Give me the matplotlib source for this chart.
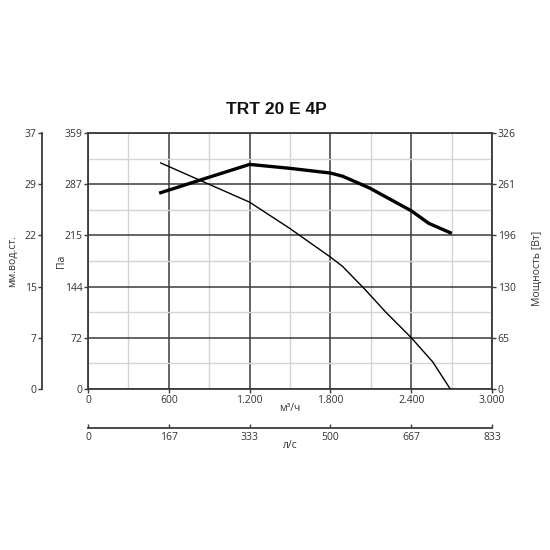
import numpy as np
import matplotlib
matplotlib.use("Agg")
import matplotlib.pyplot as plt
from matplotlib.ticker import MultipleLocator

# airflow (m3/h) vs static pressure (Pa)
q_pa = [540, 1200, 1500, 1800, 1890, 2060, 2210, 2400, 2560, 2690]
pa = [317, 262, 225, 185, 172, 139, 108, 72, 38, 0]

# airflow (m3/h) vs absorbed power (W)
q_pw = [540, 850, 1200, 1500, 1800, 1890, 2090, 2400, 2530, 2690]
pw = [250, 267, 286, 281, 275, 271, 256, 227, 211, 199]

title = "TRT 20 E 4P"
pa_labels = ["0", "72", "144", "215", "287", "359"]
mm_labels = ["0", "7", "15", "22", "29", "37"]
pw_labels = ["0", "65", "130", "196", "261", "326"]
q_labels = ["0", "600", "1.200", "1.800", "2.400", "3.000"]
ls_labels = ["0", "167", "333", "500", "667", "833"]

plt.rcParams['font.family'] = ['Open Sans', 'DejaVu Sans']
dark = '#3a3a3a'
txt = '#333333'
fs = 7.5

fig = plt.figure(figsize=(5.5, 5.5), dpi=100)
ax = fig.add_axes([88/550, 1-389/550, 404/550, 256/550])

ax.set_xlim(0, 3000)
ax.set_ylim(0, 359)
ax.set_xticks(np.linspace(0, 3000, 6))
ax.set_xticklabels(q_labels)
ax.set_yticks(np.linspace(0, 359, 6))
ax.set_yticklabels(pa_labels)
ax.xaxis.set_minor_locator(MultipleLocator(300))
ax.set_yticks(np.linspace(0, 359, 11), minor=True)
ax.grid(True, which='minor', color='#d4d4d4', lw=1.0)
ax.grid(True, which='major', color=dark, lw=1.1)
ax.tick_params(which='minor', length=0)
ax.tick_params(which='major', length=3, width=1, color=dark, labelsize=fs, labelcolor=txt, pad=1)
for s in ax.spines.values():
    s.set_color(dark)
    s.set_linewidth(1.3)
ax.set_axisbelow(True)

ax.plot(q_pa, pa, color='black', lw=1.0, zorder=3)
ax.set_ylabel("Па", fontsize=fs, color=txt)
ax.yaxis.set_label_coords(-0.052, 0.5)
ax.set_xlabel("м³/ч", fontsize=fs, color=txt, labelpad=-2)

# power on the right
axp = ax.twinx()
axp.set_ylim(0, 326)
axp.set_yticks(np.linspace(0, 326, 6))
axp.set_yticklabels(pw_labels)
axp.plot(q_pw, pw, color='black', lw=2.4, zorder=4)
axp.tick_params(length=3, width=1, color=dark, labelsize=fs, labelcolor=txt, pad=1)
for s in axp.spines.values():
    s.set_visible(False)
axp.set_ylabel("Мощность [Вт]", fontsize=fs, color=txt)
axp.yaxis.set_label_coords(1.1, 0.47)

# мм вод. ст. on the far left
axm = ax.twinx()
axm.set_ylim(0, 359)
axm.set_yticks(np.linspace(0, 359, 6))
axm.set_yticklabels(mm_labels)
for s in axm.spines.values():
    s.set_visible(False)
axm.spines['left'].set_visible(True)
axm.spines['left'].set_position(('outward', 33))
axm.spines['left'].set_color(dark)
axm.spines['left'].set_linewidth(1.3)
axm.yaxis.set_ticks_position('left')
axm.yaxis.set_label_position('left')
axm.tick_params(length=3, width=1, color=dark, labelsize=fs, labelcolor=txt, pad=1)
axm.set_ylabel("мм.вод.ст.", fontsize=fs, color=txt)
axm.yaxis.set_label_coords(-0.174, 0.5)

# л/с below
axl = ax.twiny()
axl.set_xlim(0, 3000 / 3.6)
axl.set_xticks(np.linspace(0, 3000 / 3.6, 6))
axl.set_xticklabels(ls_labels)
for s in axl.spines.values():
    s.set_visible(False)
axl.spines['bottom'].set_visible(True)
axl.spines['bottom'].set_position(('outward', 28))
axl.spines['bottom'].set_color(dark)
axl.spines['bottom'].set_linewidth(1.3)
axl.xaxis.set_ticks_position('bottom')
axl.xaxis.set_label_position('bottom')
axl.tick_params(direction='in', length=3, width=1, color=dark, labelsize=fs, labelcolor=txt, pad=3)
axl.set_xlabel("л/с", fontsize=fs, color=txt, labelpad=-2)

fig.text(276/550, 1-109/550, title, ha='center', va='center', fontsize=12.5,
         fontweight='bold', family='Liberation Sans', color='#111111')

fig.savefig("out.png", dpi=100, facecolor='white')
